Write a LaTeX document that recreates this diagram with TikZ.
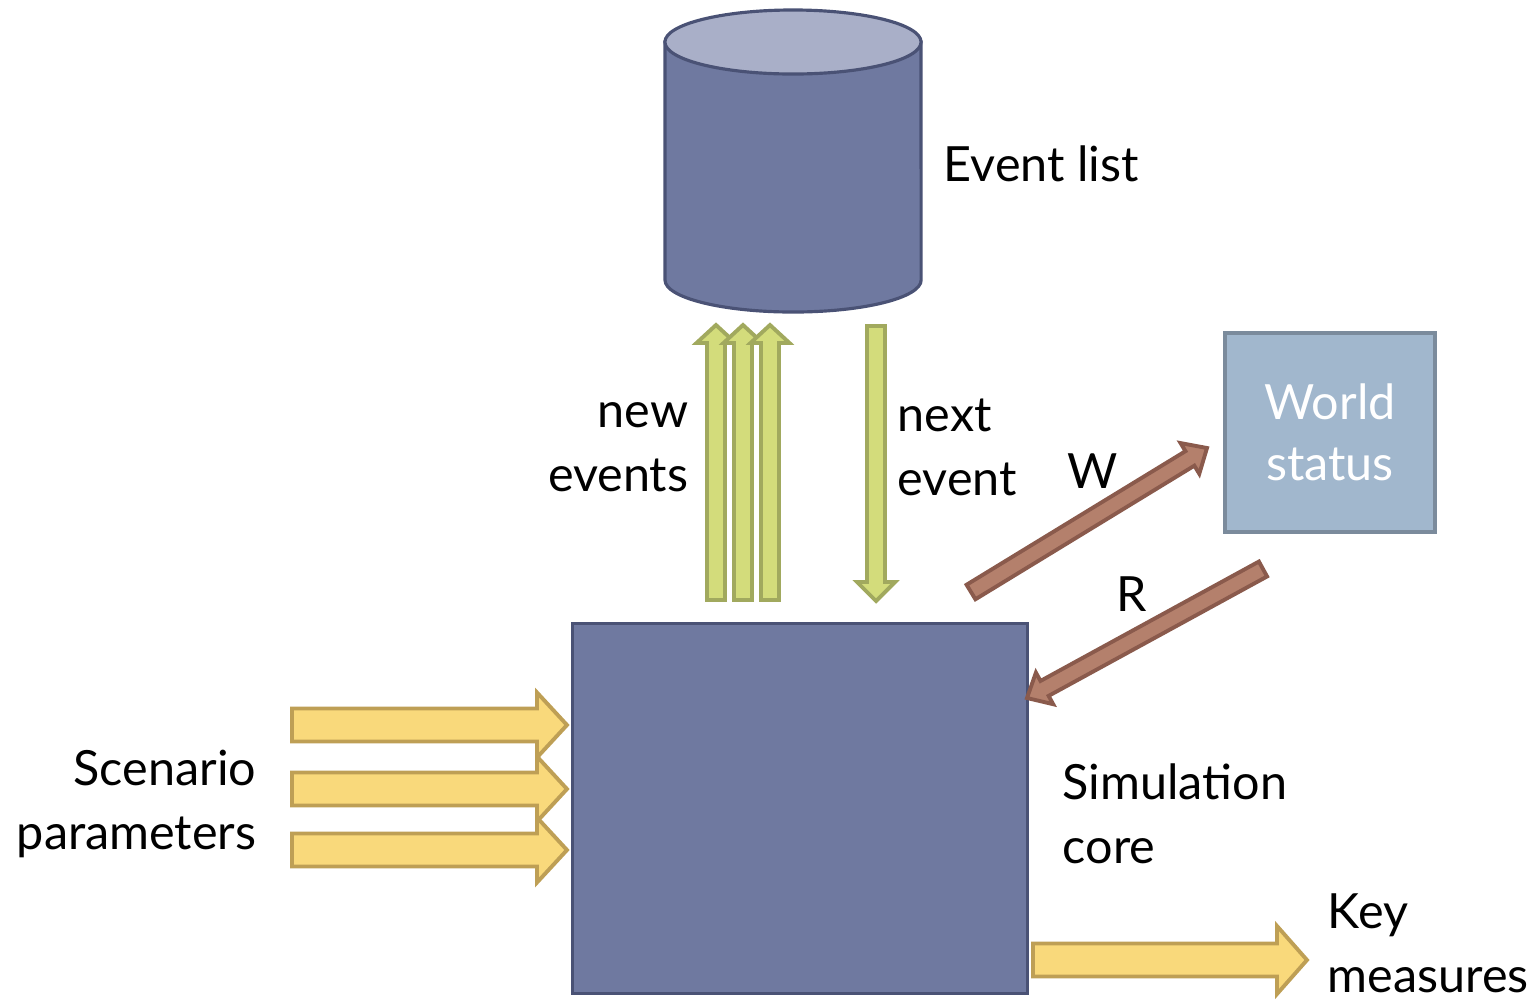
\documentclass[tikz,border=0pt]{standalone}
\usepackage{fontspec}
\setmainfont{Lato}
\usetikzlibrary{calc}
\definecolor{coreFill}{HTML}{6F79A0}
\definecolor{coreDraw}{HTML}{4A5275}
\definecolor{cylTop}{HTML}{A9AFC8}
\definecolor{worldFill}{HTML}{A1B7CD}
\definecolor{worldDraw}{HTML}{7B8B9C}
\definecolor{grnFill}{HTML}{D3DC7B}
\definecolor{grnDraw}{HTML}{A1A95E}
\definecolor{ylwFill}{HTML}{F9D97B}
\definecolor{ylwDraw}{HTML}{BE9F55}
\definecolor{brnFill}{HTML}{B4806C}
\definecolor{brnDraw}{HTML}{8A5A4C}
% #1 style, #2 tail, #3 tip, #4 half shaft, #5 half head, #6 head length
\newcommand\blockarrow[6]{%
  \path (#2) coordinate (baA) (#3) coordinate (baB);
  \path ($(baB)!#6!(baA)$) coordinate (baH);
  \draw[#1] ($(baA)!#4!90:(baB)$) -- ($(baH)!#4!-90:(baA)$) -- ($(baH)!#5!-90:(baA)$)
    -- (baB) -- ($(baH)!#5!90:(baA)$) -- ($(baH)!#4!90:(baA)$) -- ($(baA)!#4!-90:(baB)$) -- cycle;
}
\tikzset{
  lbl/.style={inner sep=0pt, font=\fontsize{13.8pt}{18.2pt}\selectfont},
  grnarrow/.style={fill=grnFill, draw=grnDraw, line width=1.1pt, line join=miter},
  ylwarrow/.style={fill=ylwFill, draw=ylwDraw, line width=1.1pt, line join=miter},
  brnarrow/.style={fill=brnFill, draw=brnDraw, line width=1.1pt, line join=miter},
}
\begin{document}
\begin{tikzpicture}[x=0.01cm, y=-0.01cm]
\useasboundingbox (0,0) rectangle (1535,999);

% Event list cylinder
\node[minimum width=2.56cm, minimum height=3.02cm, inner sep=0pt] (evlist) at (793,161) {};
\filldraw[fill=coreFill, draw=coreDraw, line width=0.9pt]
  (665,42) -- (665,280) arc[start angle=180, end angle=360, x radius=1.28cm, y radius=0.32cm]
  -- (921,42) -- cycle;
\filldraw[fill=cylTop, draw=coreDraw, line width=0.9pt] (793,42) ellipse [x radius=1.28cm, y radius=0.32cm];
\node[lbl, anchor=west] (evlbl) at (943,164) {Event list};

% Simulation core
\node[draw=coreDraw, fill=coreFill, line width=0.9pt, minimum width=4.54cm, minimum height=3.69cm, inner sep=0pt] (core) at (800,808.5) {};
\node[lbl, anchor=west, align=left] (corelbl) at (1062,814) {Simulation\\core};

% World status
\node[draw=worldDraw, fill=worldFill, line width=1pt, minimum width=2.10cm, minimum height=1.99cm, inner sep=0pt,
      text=white, font=\fontsize{13.8pt}{17.5pt}\selectfont, align=center] (world) at (1330,432.5) {World\\status};

% new events / next event
\coordinate (up1t) at (716,600); \coordinate (up1h) at (716,325);
\coordinate (up2t) at (743,600); \coordinate (up2h) at (743,325);
\coordinate (up3t) at (770,600); \coordinate (up3h) at (770,325);
\blockarrow{grnarrow}{up1t}{up1h}{0.09cm}{0.195cm}{0.18cm}
\blockarrow{grnarrow}{up2t}{up2h}{0.09cm}{0.195cm}{0.18cm}
\blockarrow{grnarrow}{up3t}{up3h}{0.09cm}{0.195cm}{0.18cm}
\coordinate (dnt) at (876,326); \coordinate (dnh) at (876,601);
\blockarrow{grnarrow}{dnt}{dnh}{0.09cm}{0.19cm}{0.19cm}
\node[lbl, anchor=east, align=right] (newlbl) at (689,447) {new\\events};
\node[lbl, anchor=west, align=left] (nextlbl) at (897,447) {next\\event};

% W and R
\coordinate (wt) at (971,592); \coordinate (wh) at (1207,448);
\blockarrow{brnarrow}{wt}{wh}{0.085cm}{0.18cm}{0.20cm}
\coordinate (rt) at (1263,569); \coordinate (rh) at (1027,698);
\blockarrow{brnarrow}{rt}{rh}{0.085cm}{0.18cm}{0.20cm}
\node[lbl] (wlbl) at (1093,471) {W};
\node[lbl] (rlbl) at (1132,594) {R};

% Scenario parameters
\coordinate (s1t) at (292,725); \coordinate (s1h) at (567,725);
\coordinate (s2t) at (292,789); \coordinate (s2h) at (567,789);
\coordinate (s3t) at (292,850); \coordinate (s3h) at (567,850);
\blockarrow{ylwarrow}{s1t}{s1h}{0.165cm}{0.325cm}{0.30cm}
\blockarrow{ylwarrow}{s2t}{s2h}{0.165cm}{0.325cm}{0.30cm}
\blockarrow{ylwarrow}{s3t}{s3h}{0.165cm}{0.325cm}{0.30cm}
\node[lbl, anchor=east, align=right] (scenlbl) at (257,804) {Scenario\\parameters};

% Key measures
\coordinate (kt) at (1033,960); \coordinate (kh) at (1307,960);
\blockarrow{ylwarrow}{kt}{kh}{0.165cm}{0.34cm}{0.30cm}
\node[lbl, anchor=west, align=left] (keylbl) at (1327,943) {Key\\measures};
\end{tikzpicture}
\end{document}
